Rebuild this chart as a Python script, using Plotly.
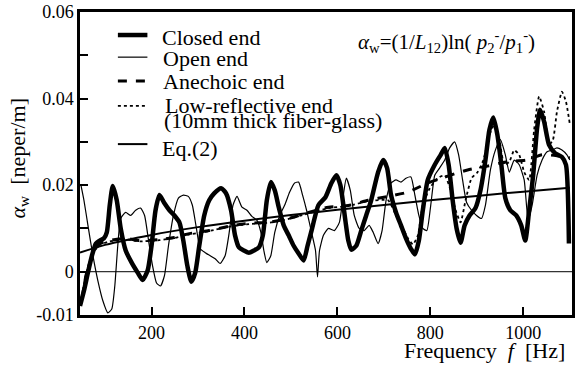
import plotly.graph_objects as go

# ---------------- data ----------------
closed_f = [46.0, 54.5, 63.1, 71.7, 80.2, 88.8, 97.3, 103.7, 110.1, 116.5, 125.1, 133.6, 144.3, 157.2,
            170.1, 180.7, 191.4, 200.0, 208.6, 217.1, 227.8, 238.5, 249.2, 259.9, 268.4, 277.0, 285.6,
            294.1, 302.7, 313.4, 324.1, 334.8, 349.7, 360.4, 371.1, 379.7, 388.2, 398.9, 409.6, 420.3,
            431.0, 439.6, 448.1, 456.7, 465.2, 473.8, 484.5, 495.2, 505.9, 516.6, 527.3, 535.8, 544.4,
            559.4, 574.3, 587.2, 597.9, 606.4, 617.1, 623.5, 629.9, 640.6, 651.3, 662.0, 672.7, 687.7,
            698.4, 706.9, 715.5, 726.2, 736.9, 747.6, 758.3, 766.8, 775.4, 783.9, 794.6, 809.6, 822.4,
            831.0, 839.5, 848.1, 856.6, 865.2, 873.8, 884.5, 897.3, 908.0, 918.7, 927.3, 935.8, 944.4,
            952.9, 961.5, 972.2, 985.0, 995.7, 1004.3, 1012.8, 1021.4, 1030.0, 1036.3, 1044.9, 1055.6,
            1068.4, 1083.4, 1092.0, 1098.4]
closed_a = [-0.0079, -0.0044, -0.0002, 0.0037, 0.0065, 0.0072, 0.0077, 0.0091, 0.0154, 0.0198, 0.0165,
            0.0100, 0.0049, 0.0021, -0.0002, -0.0019, 0.0002, 0.0060, 0.0142, 0.0177, 0.0158, 0.0142,
            0.0130, 0.0114, 0.0072, 0.0014, -0.0023, -0.0002, 0.0060, 0.0130, 0.0165, 0.0181, 0.0193,
            0.0181, 0.0142, 0.0084, 0.0056, 0.0049, 0.0044, 0.0049, 0.0056, 0.0084, 0.0165, 0.0207,
            0.0188, 0.0149, 0.0107, 0.0084, 0.0060, 0.0042, 0.0026, 0.0060, 0.0095, 0.0154, 0.0172,
            0.0205, 0.0223, 0.0200, 0.0119, 0.0072, 0.0051, 0.0060, 0.0095, 0.0130, 0.0165, 0.0230,
            0.0258, 0.0240, 0.0177, 0.0137, 0.0107, 0.0077, 0.0053, 0.0040, 0.0072, 0.0142, 0.0212,
            0.0247, 0.0270, 0.0286, 0.0247, 0.0165, 0.0100, 0.0067, 0.0107, 0.0130, 0.0147, 0.0188,
            0.0258, 0.0328, 0.0356, 0.0316, 0.0247, 0.0170, 0.0142, 0.0130, 0.0107, 0.0072, 0.0142,
            0.0223, 0.0333, 0.0374, 0.0347, 0.0293, 0.0274, 0.0265, 0.0247, 0.0065]

open_f = [48.0, 54.5, 63.1, 73.8, 84.5, 95.2, 105.9, 114.4, 120.9, 127.3, 133.6, 144.3, 155.1, 165.8,
          176.5, 185.0, 193.6, 202.1, 210.7, 219.3, 227.8, 236.4, 247.1, 257.8, 268.4, 279.1, 287.7,
          296.3, 304.8, 315.5, 326.2, 336.9, 347.6, 358.3, 366.8, 375.4, 384.0, 394.6, 405.3, 416.0,
          426.7, 435.3, 441.7, 448.1, 456.7, 465.2, 475.9, 486.6, 497.3, 508.0, 516.6, 525.1, 533.7,
          544.4, 552.9, 557.2, 561.5, 570.0, 580.7, 593.6, 604.3, 612.8, 619.2, 627.8, 636.3, 647.0,
          657.7, 668.4, 677.0, 687.7, 696.2, 704.8, 715.5, 726.2, 736.9, 747.6, 758.3, 766.8, 775.4,
          783.9, 792.5, 801.0, 809.6, 820.3, 831.0, 841.7, 852.4, 861.0, 869.5, 878.1, 888.8, 899.5,
          910.2, 918.7, 929.4, 940.1, 950.8, 961.5, 970.0, 980.7, 991.4, 1002.1, 1010.6, 1019.2,
          1029.9, 1040.6, 1051.3, 1062.0, 1072.7, 1083.4, 1094.1, 1100.5]
open_a = [0.0200, 0.0165, 0.0107, 0.0037, -0.0021, -0.0067, -0.0095, -0.0086, -0.0033, 0.0060, 0.0123,
          0.0137, 0.0130, 0.0142, 0.0147, 0.0130, 0.0072, 0.0014, -0.0026, -0.0033, -0.0009, 0.0060,
          0.0130, 0.0170, 0.0177, 0.0174, 0.0154, 0.0102, 0.0053, 0.0044, 0.0037, 0.0030, 0.0019,
          0.0037, 0.0088, 0.0154, 0.0174, 0.0149, 0.0142, 0.0128, 0.0119, 0.0091, 0.0049, 0.0021,
          0.0037, 0.0091, 0.0130, 0.0154, 0.0184, 0.0205, 0.0207, 0.0177, 0.0142, 0.0091, 0.0049,
          -0.0012, 0.0049, 0.0084, 0.0100, 0.0095, 0.0114, 0.0177, 0.0216, 0.0188, 0.0130, 0.0100,
          0.0095, 0.0107, 0.0091, 0.0065, 0.0095, 0.0165, 0.0205, 0.0212, 0.0207, 0.0216, 0.0219,
          0.0177, 0.0130, 0.0100, 0.0095, 0.0154, 0.0223, 0.0240, 0.0258, 0.0286, 0.0300, 0.0270,
          0.0212, 0.0160, 0.0142, 0.0130, 0.0123, 0.0154, 0.0235, 0.0281, 0.0305, 0.0270, 0.0230,
          0.0258, 0.0247, 0.0212, 0.0119, 0.0154, 0.0223, 0.0258, 0.0277, 0.0281, 0.0286, 0.0281,
          0.0270, 0.0258]

anech_f = [50.3, 58.8, 67.4, 78.1, 88.8, 110.1, 142.3, 174.3, 217.1, 249.2, 281.3, 324.1, 366.9, 409.6,
           452.4, 495.2, 538.0, 580.8, 623.5, 666.3, 709.1, 751.9, 794.6, 837.4, 880.2, 923.0, 965.8,
           1008.5, 1040.6, 1072.7, 1100.5]
anech_a = [-0.0063, -0.0009, 0.0021, 0.0049, 0.0065, 0.0072, 0.0077, 0.0072, 0.0074, 0.0079, 0.0088,
           0.0095, 0.0105, 0.0112, 0.0114, 0.0123, 0.0137, 0.0149, 0.0153, 0.0165, 0.0174, 0.0184,
           0.0205, 0.0221, 0.0235, 0.0244, 0.0254, 0.0258, 0.0270, 0.0268, 0.0263]

lowref_f = [48.0, 56.0, 64.0, 75.0, 88.8, 110.1, 142.3, 174.3, 217.1, 249.2, 281.3, 324.1, 366.9, 409.6,
            452.4, 495.2, 538.0, 580.8, 623.5, 666.3, 709.1, 726.2, 741.2, 751.9, 762.6, 773.3, 783.9,
            798.9, 816.0, 831.0, 843.8, 854.5, 865.2, 875.9, 888.7, 901.6, 914.4, 927.2, 937.9, 948.6,
            959.3, 970.0, 980.7, 991.4, 1002.1, 1012.8, 1023.5, 1034.2, 1044.9, 1055.6, 1064.1, 1072.7,
            1083.4, 1092.0, 1100.5]
lowref_a = [-0.0070, -0.0020, 0.0015, 0.0045, 0.0062, 0.0070, 0.0075, 0.0070, 0.0073, 0.0078, 0.0086,
            0.0094, 0.0104, 0.0110, 0.0113, 0.0122, 0.0135, 0.0147, 0.0152, 0.0163, 0.0165, 0.0130,
            0.0100, 0.0077, 0.0063, 0.0084, 0.0154, 0.0193, 0.0216, 0.0223, 0.0188, 0.0142, 0.0114,
            0.0165, 0.0216, 0.0230, 0.0258, 0.0316, 0.0340, 0.0305, 0.0247, 0.0254, 0.0281, 0.0270,
            0.0230, 0.0212, 0.0328, 0.0405, 0.0370, 0.0293, 0.0305, 0.0370, 0.0416, 0.0393, 0.0340]

eq_f = [46, 100, 200, 300, 400, 500, 600, 700, 800, 900, 1000, 1100]
eq_a = [0.0044, 0.0062, 0.0085, 0.0103, 0.0118, 0.0131, 0.0143, 0.0154, 0.0165, 0.0175, 0.0185, 0.0194]

x_range = [46, 1105]
y_range = [-0.01, 0.06]
y_tickvals = [-0.01, 0, 0.01, 0.02, 0.03, 0.04, 0.05, 0.06]
y_ticktext = ["-0.01", "0", "", "0.02", "", "0.04", "", "0.06"]
x_tickvals = [200, 400, 600, 800, 1000]

legend_names = ["Closed end", "Open end", "Anechoic end",
                "Low-reflective end", "(10mm thick fiber-glass)", "Eq.(2)"]

FONT = "Liberation Serif"

styles = [dict(color="black", width=4.5, shape="spline", smoothing=0.6),
          dict(color="black", width=1.2, shape="spline", smoothing=0.5),
          dict(color="black", width=3, dash="dash", shape="spline", smoothing=0.6),
          dict(color="black", width=1.8, dash="dot", shape="spline", smoothing=0.5),
          dict(color="black", width=2, shape="spline")]

fig = go.Figure()
series = [(closed_f, closed_a, "Closed end"), (open_f, open_a, "Open end"),
          (anech_f, anech_a, "Anechoic end"),
          (lowref_f, lowref_a, "Low-reflective end (10mm thick fiber-glass)"),
          (eq_f, eq_a, "Eq.(2)")]
for (fx, fy, nm), st in zip(series, styles):
    fig.add_trace(go.Scatter(x=fx, y=fy, mode="lines", name=nm, line=st, showlegend=False,
                             hoverinfo="skip"))

# zero line
fig.add_hline(y=0, line=dict(color="black", width=1))

# hand-placed legend (paper coordinates of the plot area)
sample_y = [0.924, 0.851, 0.772, 0.690, 0.564]
sample_dash = ["solid", "solid", "dash", "dot", "solid"]
sample_w = [4.5, 1.2, 3, 1.8, 2]
for yy, dsh, w in zip(sample_y, sample_dash, sample_w):
    fig.add_shape(type="line", xref="paper", yref="paper", x0=0.077, x1=0.137, y0=yy, y1=yy,
                  line=dict(color="black", width=w, dash=dsh))
text_y = [0.917, 0.845, 0.769, 0.693, 0.643, 0.551]
text_x = [0.162, 0.164, 0.164, 0.168, 0.166, 0.162]
annots = []
for nm, yy, xx in zip(legend_names, text_y, text_x):
    annots.append(dict(text=nm, xref="paper", yref="paper", x=xx, y=yy, xanchor="left",
                       yanchor="middle", showarrow=False, font=dict(family=FONT, size=22)))

annots += [
    dict(text="<i>α</i><sub>w</sub>=(1/<i>L</i><sub>12</sub>)ln( <i>p</i><sub>2</sub><sup>-</sup>/<i>p</i><sub>1</sub><sup>-</sup>)",
         xref="paper", yref="paper", x=0.929, y=0.901, xanchor="right", yanchor="middle",
         showarrow=False, font=dict(family=FONT, size=21)),
    dict(text="Frequency  <i>f</i>  [Hz]", xref="paper", yref="paper", x=0.99, y=-0.118,
         xanchor="right", yanchor="middle", showarrow=False, font=dict(family=FONT, size=22)),
    dict(text="<i>α</i><sub>w</sub>  [neper/m]", xref="paper", yref="paper", x=-0.125, y=0.515,
         xanchor="center", yanchor="middle", textangle=-90, showarrow=False,
         font=dict(family=FONT, size=22)),
]

fig.update_layout(
    width=577, height=366,
    margin=dict(l=80, r=2, t=12, b=51),
    paper_bgcolor="white", plot_bgcolor="white",
    font=dict(family=FONT, color="black", size=18),
    showlegend=False,
    hovermode=False,
    xaxis=dict(range=x_range, tickvals=x_tickvals, ticks="inside", ticklen=8, tickwidth=2,
               tickcolor="black", showline=True, linecolor="black", linewidth=2.5, mirror=True,
               showgrid=False, zeroline=False, tickfont=dict(family=FONT, size=18),
               ticklabeloverflow="allow"),
    yaxis=dict(range=y_range, tickvals=y_tickvals, ticktext=y_ticktext, ticks="inside", ticklen=8,
               tickwidth=2, tickcolor="black", showline=True, linecolor="black", linewidth=2.5,
               mirror=True, showgrid=False, zeroline=False, tickfont=dict(family=FONT, size=18),
               ticklabeloverflow="allow"),
    annotations=annots,
)

# the page's default 8px body margin would shift the figure; remove it
fig.write_html("out.html", config={"displayModeBar": False},
               post_script="document.body.style.margin='0px';")
